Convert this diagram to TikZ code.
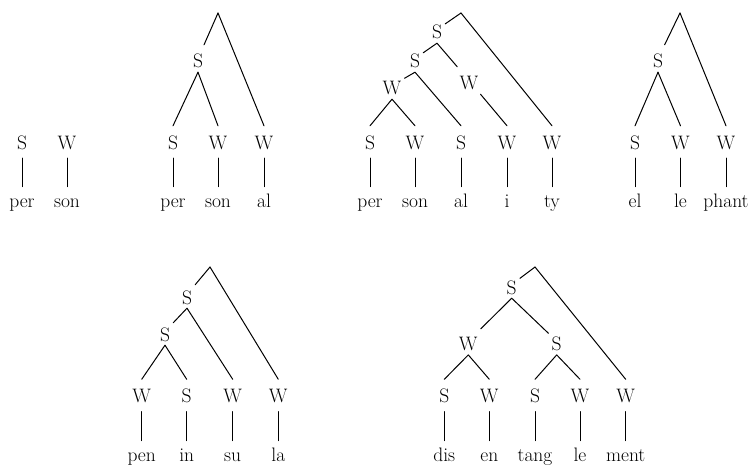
\documentclass[tikz,border=0pt]{standalone}
\begin{document}
\begin{tikzpicture}[x=1pt,y=-1pt,
  every node/.style={font=\fontsize{19.5}{22}\selectfont},
  lbl/.style={anchor=base,text height=17pt,text depth=3pt,inner ysep=6pt,inner xsep=3pt},
  inl/.style={anchor=base,text height=19pt,text depth=0pt,inner ysep=4pt,inner xsep=3pt},
  wrd/.style={anchor=base,text height=14.6pt,text depth=4pt,inner ysep=6pt,inner xsep=2pt},
  br/.style={line width=1pt,line cap=round}]
\useasboundingbox (0,0) rectangle (751,468);
% ---------- Tree 1: per son
\node[lbl] (a1) at (22,149) {S};
\node[lbl] (a2) at (67,149) {W};
\node[wrd] (aw1) at (22,207.5) {per};
\node[wrd] (aw2) at (67,207.5) {son};
\draw[br] (a1.south) -- (aw1.north);
\draw[br] (a2.south) -- (aw2.north);
% ---------- Tree 2: per son al
\coordinate (bt) at (218,13);
\node[inl] (bS) at (198,68) {S};
\node[lbl] (b1) at (173,149) {S};
\node[lbl] (b2) at (218,149) {W};
\node[lbl] (b3) at (264,149) {W};
\node[wrd] (bw1) at (173,207.5) {per};
\node[wrd] (bw2) at (218,207.5) {son};
\node[wrd] (bw3) at (264,207.5) {al};
\draw[br] (bt) -- (bS);
\draw[br] (bt) -- (b3.north);
\draw[br] (bS.south) -- (b1.north);
\draw[br] (bS.south) -- (b2.north);
\foreach \i in {1,2,3}{\draw[br] (b\i.south) -- (bw\i.north);}
% ---------- Tree 3: per son al i ty
\coordinate (ct) at (461,13);
\node[inl] (cS1) at (437,39) {S};
\node[inl] (cS2) at (415,68) {S};
\node[inl] (cW1) at (392,95) {W};
\node[inl] (cW2) at (469,90) {W};
\node[lbl] (c1) at (370,149) {S};
\node[lbl] (c2) at (415,149) {W};
\node[lbl] (c3) at (461,149) {S};
\node[lbl] (c4) at (507,149) {W};
\node[lbl] (c5) at (552,149) {W};
\node[wrd] (cw1) at (370,207.5) {per};
\node[wrd] (cw2) at (415,207.5) {son};
\node[wrd] (cw3) at (461,207.5) {al};
\node[wrd] (cw4) at (507,207.5) {i};
\node[wrd] (cw5) at (552,207.5) {ty};
\draw[br] (ct) -- (cS1);
\draw[br] (ct) -- (c5.north);
\draw[br] (cS1.south) -- (cS2);
\draw[br] (cS1.south) -- (cW2);
\draw[br] (cS2.south) -- (cW1);
\draw[br] (cS2.south) -- (c3.north);
\draw[br] (cW1.south) -- (c1.north);
\draw[br] (cW1.south) -- (c2.north);
\draw[br] (cW2) -- (c4.north);
\foreach \i in {1,...,5}{\draw[br] (c\i.south) -- (cw\i.north);}
% ---------- Tree 4: el le phant
\coordinate (dt) at (680,13);
\node[inl] (dS) at (658,68) {S};
\node[lbl] (d1) at (635,149) {S};
\node[lbl] (d2) at (680.5,149) {W};
\node[lbl] (d3) at (726,149) {W};
\node[wrd] (dw1) at (635,207.5) {el};
\node[wrd] (dw2) at (680.5,207.5) {le};
\node[wrd] (dw3) at (726,207.5) {phant};
\draw[br] (dt) -- (dS);
\draw[br] (dt) -- (d3.north);
\draw[br] (dS.south) -- (d1.north);
\draw[br] (dS.south) -- (d2.north);
\foreach \i in {1,2,3}{\draw[br] (d\i.south) -- (dw\i.north);}
% ---------- Tree 5: pen in su la
\coordinate (et) at (210,267);
\node[inl] (eS1) at (187,304) {S};
\node[inl] (eS2) at (165,341) {S};
\node[lbl] (e1) at (141.7,402.5) {W};
\node[lbl] (e2) at (186.7,402.5) {S};
\node[lbl] (e3) at (232.7,402.5) {W};
\node[lbl] (e4) at (278.3,402.5) {W};
\node[wrd] (ew1) at (141.7,461.5) {pen};
\node[wrd] (ew2) at (186.7,461.5) {in};
\node[wrd] (ew3) at (232.7,461.5) {su};
\node[wrd] (ew4) at (278.3,461.5) {la};
\draw[br] (et) -- (eS1);
\draw[br] (et) -- (e4.north);
\draw[br] (eS1.south) -- (eS2);
\draw[br] (eS1.south) -- (e3.north);
\draw[br] (eS2.south) -- (e1.north);
\draw[br] (eS2.south) -- (e2.north);
\foreach \i in {1,...,4}{\draw[br] (e\i.south) -- (ew\i.north);}
% ---------- Tree 6: dis en tang le ment
\coordinate (ft) at (535,267);
\node[inl] (fS) at (511.7,294) {S};
\node[inl] (fW) at (468.3,350.7) {W};
\node[inl] (fS2) at (556.7,350.7) {S};
\node[lbl] (f1) at (444.3,402.5) {S};
\node[lbl] (f2) at (489.3,402.5) {W};
\node[lbl] (f3) at (535,402.5) {S};
\node[lbl] (f4) at (580,402.5) {W};
\node[lbl] (f5) at (625.7,402.5) {W};
\node[wrd] (fw1) at (444.3,461.5) {dis};
\node[wrd] (fw2) at (489.3,461.5) {en};
\node[wrd] (fw3) at (535,461.5) {tang};
\node[wrd] (fw4) at (580,461.5) {le};
\node[wrd] (fw5) at (625.7,461.5) {ment};
\draw[br] (ft) -- (fS);
\draw[br] (ft) -- (f5.north);
\draw[br] (fS.south) -- (fW);
\draw[br] (fS.south) -- (fS2);
\draw[br] (fW.south) -- (f1.north);
\draw[br] (fW.south) -- (f2.north);
\draw[br] (fS2.south) -- (f3.north);
\draw[br] (fS2.south) -- (f4.north);
\foreach \i in {1,...,5}{\draw[br] (f\i.south) -- (fw\i.north);}
\end{tikzpicture}
\end{document}
